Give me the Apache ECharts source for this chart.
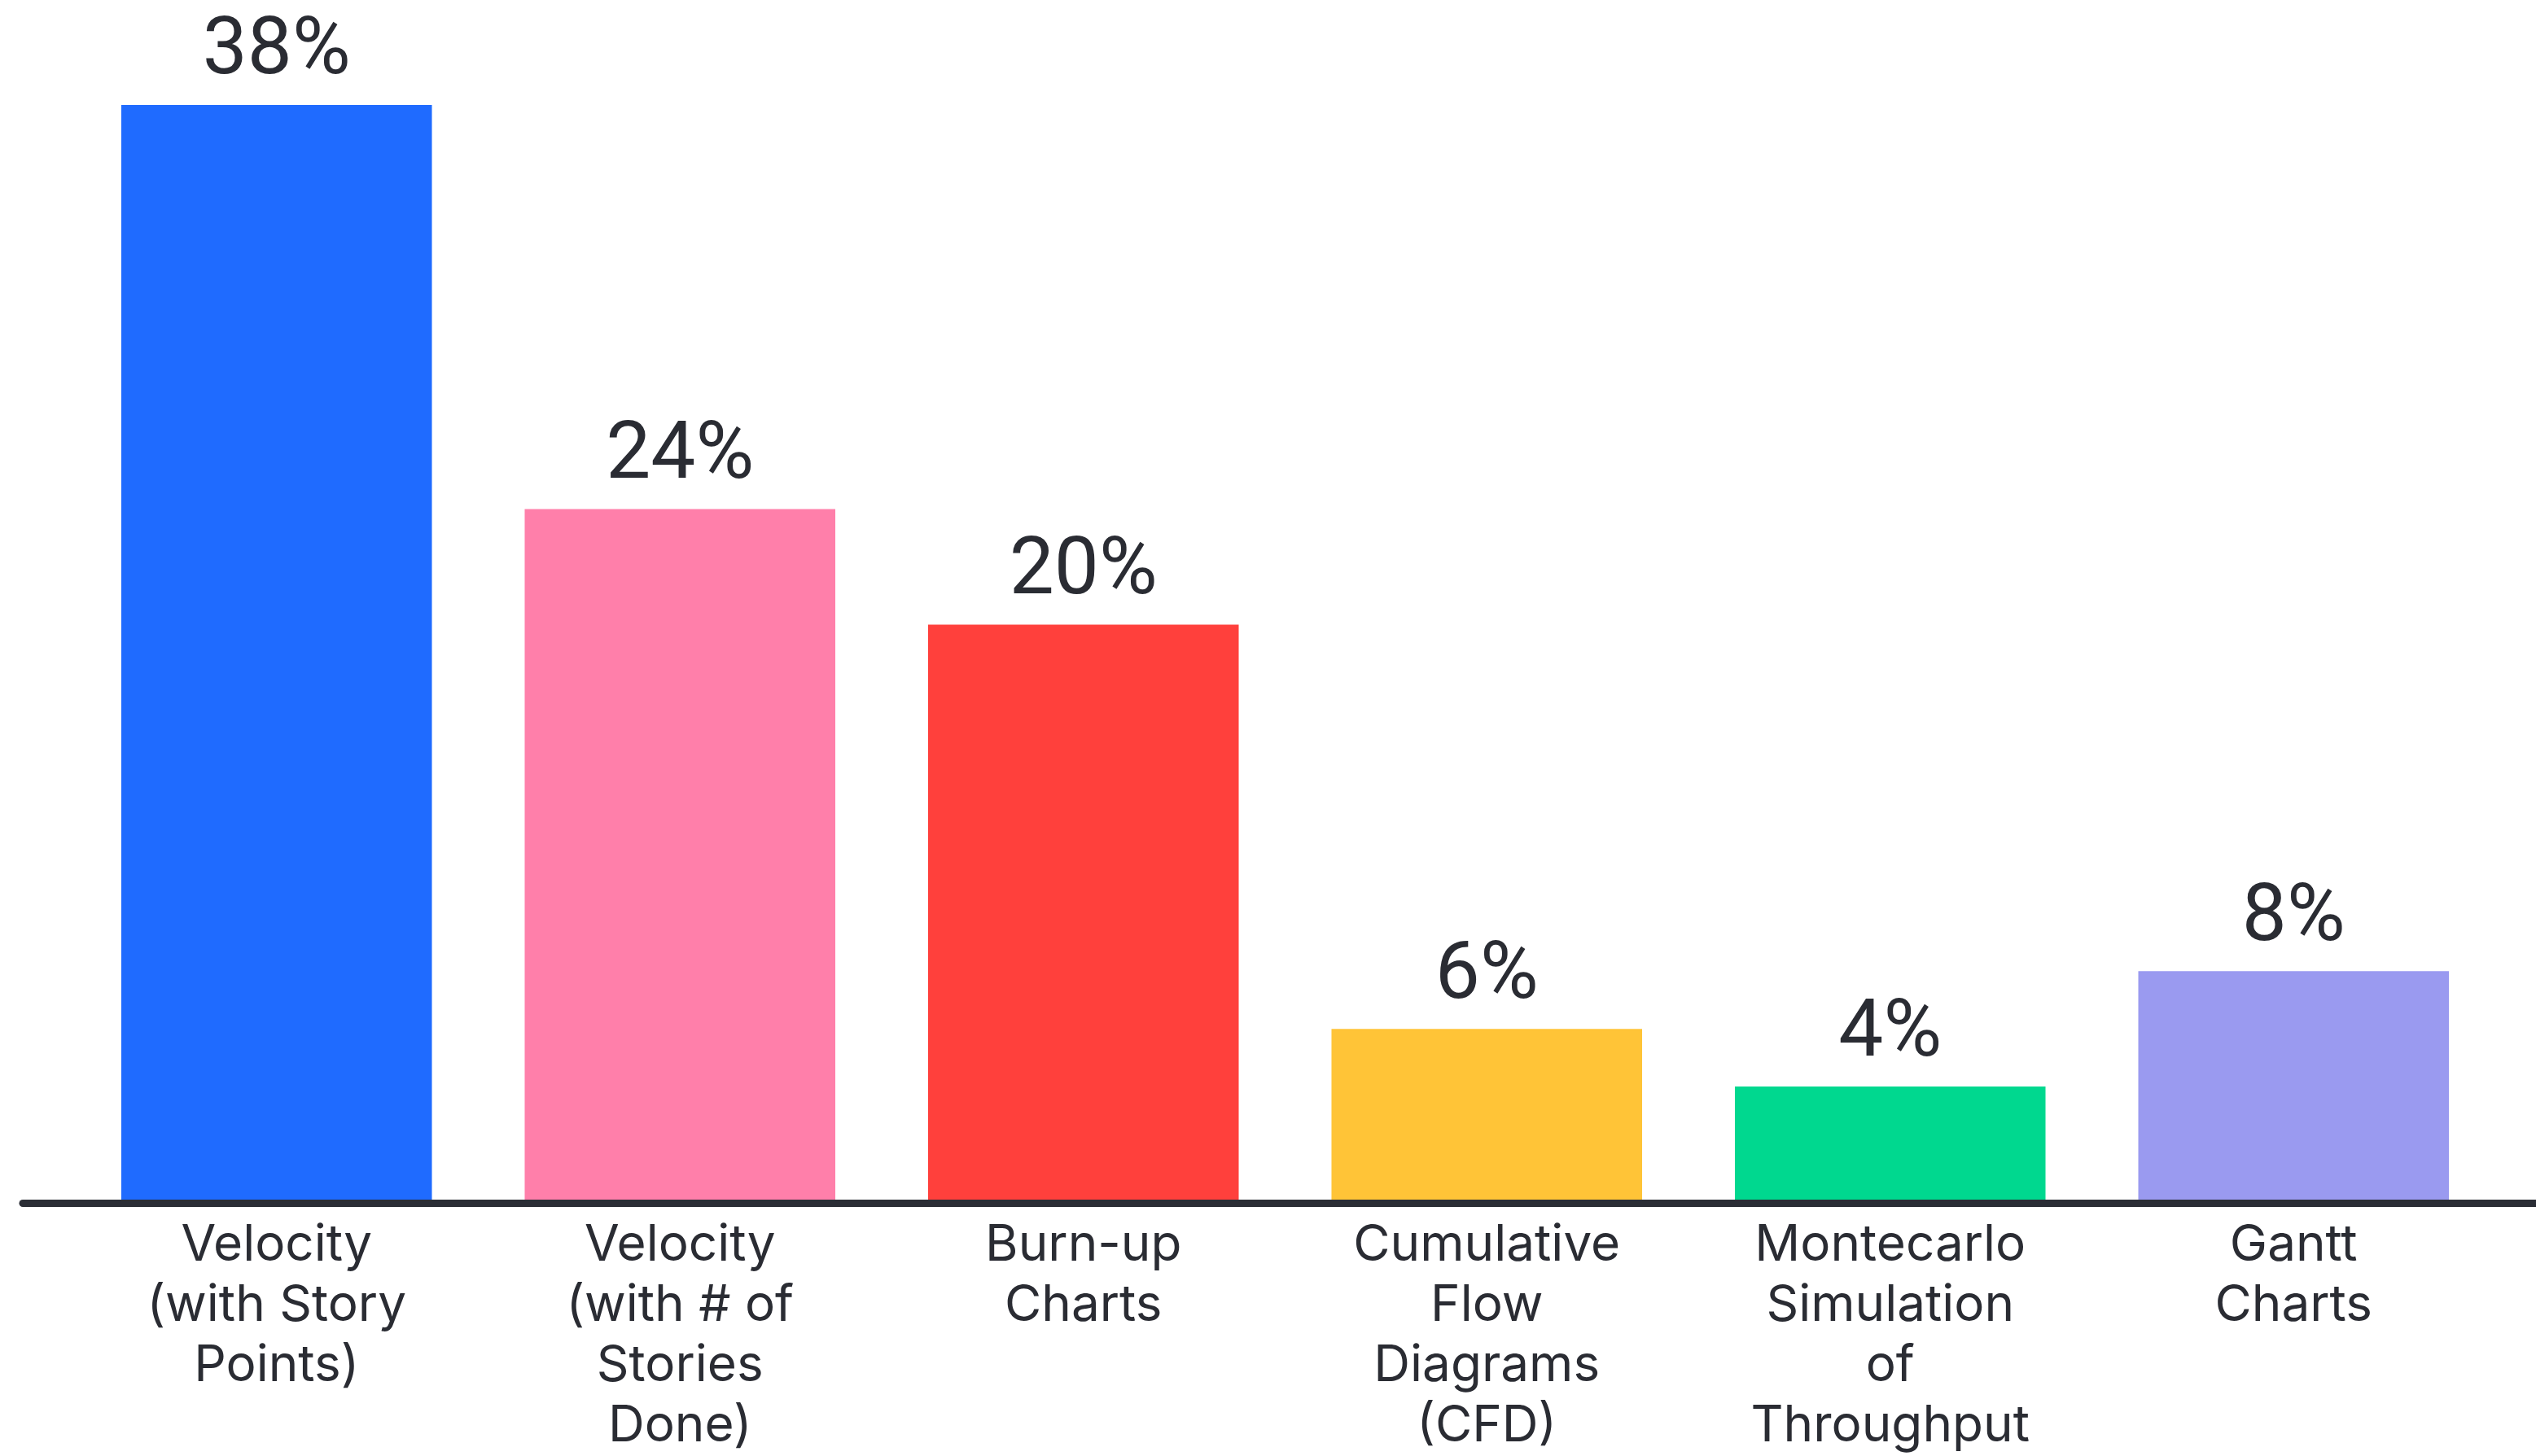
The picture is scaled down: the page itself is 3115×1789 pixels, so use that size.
<!DOCTYPE html>
<html>
<head>
<meta charset="utf-8">
<script src="https://cdn.jsdelivr.net/npm/echarts@6/dist/echarts.min.js"></script>
<style>
html,body{margin:0;padding:0;background:#ffffff;}
#chart{width:3115px;height:1789px;}
</style>
</head>
<body>
<div id="chart"></div>
<script>
const categories = [
  'Velocity\n(with Story\nPoints)',
  'Velocity\n(with # of\nStories\nDone)',
  'Burn-up\nCharts',
  'Cumulative\nFlow\nDiagrams\n(CFD)',
  'Montecarlo\nSimulation\nof\nThroughput',
  'Gantt\nCharts'
];
const values = [38, 24, 20, 6, 4, 8];
const barColors = ['#1f6bff', '#ff7faa', '#ff403c', '#ffc437', '#00d88f', '#9a9af0'];

const TEXT = '#2a2c33';

const chart = echarts.init(document.getElementById('chart'));
chart.setOption({
  backgroundColor: '#ffffff',
  animation: false,
  grid: [
    {left: 92, right: 50, top: 58, bottom: 311},
    {left: 28, right: 0, top: 58, bottom: 311}
  ],
  xAxis: [
    {
      type: 'category', gridIndex: 0, data: categories,
      axisLine: {show: false},
      axisTick: {show: false},
      axisLabel: {interval: 0, margin: 16, fontFamily: 'Inter, Roboto, sans-serif', fontSize: 62, lineHeight: 74, color: TEXT}
    },
    {
      type: 'value', gridIndex: 1, min: 0, max: 1, z: 10,
      axisLine: {show: true, lineStyle: {color: '#2a2d35', width: 9}},
      axisTick: {show: false}, axisLabel: {show: false}, splitLine: {show: false}
    }
  ],
  yAxis: [
    {type: 'value', gridIndex: 0, min: 0, max: 40, show: false},
    {type: 'value', gridIndex: 1, min: 0, max: 1, show: false}
  ],
  series: [{
    type: 'bar',
    xAxisIndex: 0, yAxisIndex: 0,
    barCategoryGap: '23%',
    data: values.map((v, i) => ({value: v, itemStyle: {color: barColors[i]}})),
    label: {
      show: true, position: 'top', distance: 14,
      formatter: '{c}%', fontFamily: 'Roboto, sans-serif', fontSize: 98, color: TEXT
    }
  }]
});
</script>
</body>
</html>
